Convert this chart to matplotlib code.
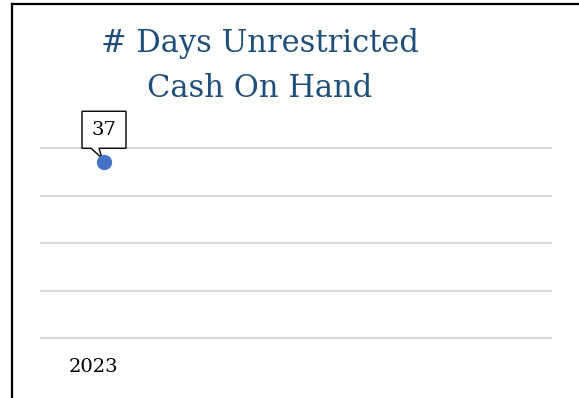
import numpy as np
import matplotlib.pyplot as plt
import matplotlib.transforms as mtransforms
from matplotlib.lines import Line2D
from matplotlib.patches import Polygon

# data
years = ["2023", "", "", ""]
days_cash = [37, np.nan, np.nan, np.nan]
y_ticks = [0, 10, 20, 30, 40]

title_lines = ["# Days Unrestricted", "Cash On Hand"]
title_color = "#1F4E79"
point_color = "#4472C4"

plt.rcParams["font.family"] = ["DejaVu Serif"]

W, H = 579, 398
fig = plt.figure(figsize=(W / 100, H / 100), dpi=100)
# one y unit = 4.75 px, axes padded by one unit top and bottom
ax = fig.add_axes([40 / W, (H - 338 - 4.75) / H, 512 / W, (190 + 9.5) / H])

x = np.arange(len(years))
ax.plot(x, days_cash, "o", color=point_color, markersize=10, zorder=5)

ax.set_xlim(-0.5, len(years) - 0.5)
ax.set_ylim(-1, 41)

# callout label, shape given in pixel offsets from the point
callout = [(-22, 14), (-13, 14), (-2, 4), (-5, 14), (22, 14), (22, 51), (-22, 51)]
for xi, v in zip(x, days_cash):
    if np.isnan(v):
        continue
    at_point = mtransforms.IdentityTransform() + mtransforms.ScaledTranslation(
        xi, v, ax.transData)
    ax.add_patch(Polygon(callout, closed=True, fc="white", ec="black", lw=1.0,
                         transform=at_point, zorder=4, clip_on=False))
    ax.text(0, 32, f"{v:g}", transform=at_point, ha="center",
            va="center", fontsize=14, zorder=6)

ax.set_yticks(y_ticks)
ax.set_yticklabels([])
ax.set_xticks(x)
ax.set_xticklabels(years, fontsize=14)
ax.tick_params(axis="both", length=0)
ax.tick_params(axis="x", pad=11)
shift = mtransforms.ScaledTranslation(-10 / 100, 0, fig.dpi_scale_trans)
for lab in ax.get_xticklabels():
    lab.set_transform(lab.get_transform() + shift)
ax.grid(axis="y", color="#D9D9D9", lw=1.6)
ax.set_axisbelow(True)
for s in ax.spines.values():
    s.set_visible(False)

fig.text(260 / W, 1 - 52 / H, title_lines[0], ha="center", va="baseline",
         fontsize=22, color=title_color)
fig.text(260 / W, 1 - 97 / H, title_lines[1], ha="center", va="baseline",
         fontsize=22, color=title_color)

# outer frame (left and top edges visible)
fig.add_artist(Line2D([11.5 / W, 11.5 / W], [0, 1 - 4 / H], color="black", lw=1.6,
                      transform=fig.transFigure))
fig.add_artist(Line2D([11.5 / W, 1], [1 - 4 / H, 1 - 4 / H], color="black", lw=1.6,
                      transform=fig.transFigure))

fig.savefig("out.png", dpi=100)
